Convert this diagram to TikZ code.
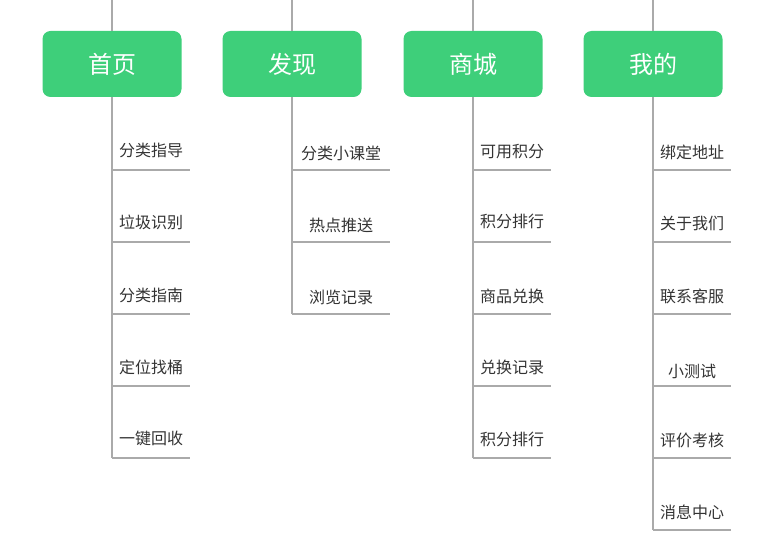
\documentclass[tikz,border=0pt]{standalone}
\usepackage{fontspec}
\newfontfamily\cjk{Noto Sans CJK SC}
\definecolor{grn}{HTML}{3ECF7A}
\definecolor{ln}{HTML}{AAAAAA}
\definecolor{tx}{HTML}{333333}
\begin{document}
\begin{tikzpicture}[x=1pt,y=-1pt,
  head/.style={fill=grn,rounded corners=8pt,minimum width=139pt,minimum height=66pt,text=white,font=\cjk\fontsize{24}{28}\selectfont,inner sep=0pt},
  item/.style={text=tx,font=\cjk\fontsize{16}{19}\selectfont,inner sep=0pt},
  conn/.style={draw=ln,line width=1.2pt}]
\useasboundingbox (0,0) rectangle (777,548);
\foreach \n/\x/\t/\e in {a/112/首页/458,b/292/发现/314,c/473/商城/458,d/653/我的/530}{
  \node[head] (\n) at (\x,64) {\t};
  \coordinate (\n top) at (\x,0);
  \coordinate (\n end) at (\x,\e);
  \draw[conn] (\n top) -- (\n.north);
  \draw[conn] (\n.south) -- (\n end);
}
\foreach \n/\x/\w/\list in {
 a/112/78/{150/170/分类指导,222/242/垃圾识别,295/314/分类指南,367/386/定位找桶,438/458/一键回收},
 b/292/98/{153/170/分类小课堂,225/242/热点推送,297/314/浏览记录},
 c/473/78/{152/170/可用积分,221/242/积分排行,296/314/商品兑换,367/386/兑换记录,439/458/积分排行},
 d/653/78/{152/170/绑定地址,223/242/关于我们,296/314/联系客服,371/386/小测试,440/458/评价考核,512/530/消息中心}}{
  \foreach \ty/\ly/\t [count=\i] in \list {
    \coordinate (\n l\i) at (\x,\ly);
    \coordinate (\n r\i) at (\x+\w,\ly);
    \node[item] (\n t\i) at (\x+\w/2,\ty) {\t};
    \draw[conn] (\n l\i) -- (\n r\i);
  }
}
\end{tikzpicture}
\end{document}
